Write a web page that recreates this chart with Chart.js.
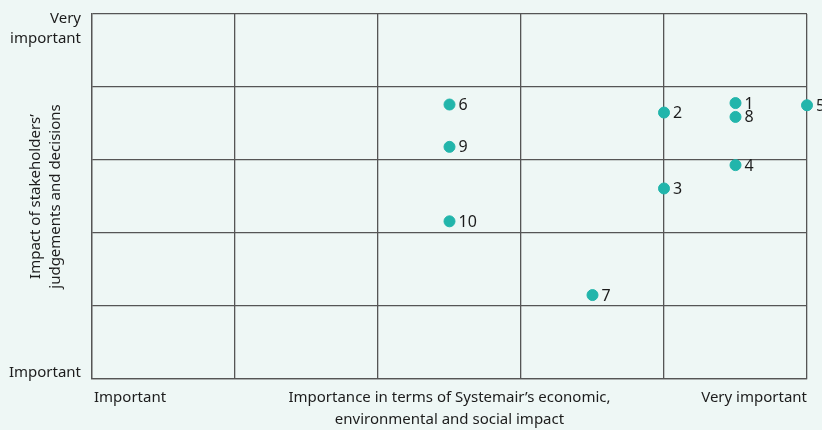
<!DOCTYPE html>
<html>
<head>
<meta charset="utf-8">
<script src="https://cdn.jsdelivr.net/npm/chart.js@4/dist/chart.umd.min.js"></script>
<style>
  html, body { margin: 0; padding: 0; background: #eef7f5; }
  #wrap { width: 822px; height: 430px; position: relative; }
</style>
</head>
<body>
<div id="wrap"><canvas id="matrix"></canvas></div>
<script>
  // Materiality matrix data
  var pointLabels = ['1', '2', '3', '4', '5', '6', '7', '8', '9', '10'];
  var economicImpact = [4.5, 4.0, 4.0, 4.5, 5.0, 2.5, 3.5, 4.5, 2.5, 2.5];
  var stakeholderImpact = [3.78, 3.65, 2.61, 2.93, 3.75, 3.76, 1.15, 3.59, 3.18, 2.16];

  var xLowLabel = 'Important';
  var xHighLabel = 'Very important';
  var yLowLabel = 'Important';
  var yHighLabel = ['Very', 'important'];
  var xTitle = ['Importance in terms of Systemair\u2019s economic,', 'environmental and social impact'];
  var yTitle = ['Impact of stakeholders\u2019', 'judgements and decisions'];

  var fontFamily = '"Noto Sans", sans-serif';
  var textColor = '#1c1c1c';
  var dotColor = '#22b5ab';

  var points = economicImpact.map(function (x, i) {
    return { x: x, y: stakeholderImpact[i] };
  });

  // draws the number next to each dot and the axis texts
  var labelPlugin = {
    id: 'matrixLabels',
    afterDatasetsDraw: function (chart) {
      var ctx = chart.ctx;
      var area = chart.chartArea;
      var meta = chart.getDatasetMeta(0);
      ctx.save();
      ctx.fillStyle = textColor;
      ctx.font = '16px ' + fontFamily;
      ctx.textAlign = 'left';
      ctx.textBaseline = 'middle';
      meta.data.forEach(function (el, i) {
        ctx.fillText(pointLabels[i], el.x + 9, el.y + 1);
      });

      ctx.font = '15px ' + fontFamily;
      // y axis end labels
      ctx.textAlign = 'right';
      ctx.textBaseline = 'middle';
      ctx.fillText(yHighLabel[0], area.left - 11, area.top + 5);
      ctx.fillText(yHighLabel[1], area.left - 11, area.top + 25);
      ctx.fillText(yLowLabel, area.left - 11, area.bottom - 6);

      // x axis end labels
      ctx.textAlign = 'left';
      ctx.fillText(xLowLabel, area.left + 2, area.bottom + 19);
      ctx.textAlign = 'right';
      ctx.fillText(xHighLabel, area.right, area.bottom + 19);

      // x title
      ctx.textAlign = 'center';
      var cx = (area.left + area.right) / 2;
      ctx.fillText(xTitle[0], cx, area.bottom + 19);
      ctx.fillText(xTitle[1], cx, area.bottom + 41);

      // y title (rotated)
      var cy = (area.top + area.bottom) / 2;
      ctx.translate(36, cy);
      ctx.rotate(-Math.PI / 2);
      ctx.textAlign = 'center';
      ctx.fillText(yTitle[0], 0, 0);
      ctx.fillText(yTitle[1], 0, 20);
      ctx.restore();
    }
  };

  var bgPlugin = {
    id: 'bg',
    beforeDraw: function (chart) {
      var ctx = chart.ctx;
      ctx.save();
      ctx.fillStyle = '#eef7f5';
      ctx.fillRect(0, 0, chart.width, chart.height);
      ctx.restore();
    }
  };

  var gridStyle = {
    color: '#555',
    lineWidth: 1.3,
    drawTicks: false
  };

  new Chart(document.getElementById('matrix'), {
    type: 'scatter',
    data: {
      datasets: [{
        data: points,
        backgroundColor: dotColor,
        borderColor: dotColor,
        pointRadius: 5.5,
        pointHoverRadius: 5.5,
        clip: false
      }]
    },
    options: {
      responsive: true,
      maintainAspectRatio: false,
      animation: false,
      layout: { padding: { left: 92, right: 15, top: 14, bottom: 51 } },
      plugins: {
        legend: { display: false },
        tooltip: { enabled: false }
      },
      scales: {
        x: {
          min: 0, max: 5,
          ticks: { display: false, stepSize: 1 },
          grid: gridStyle,
          border: { display: true, color: '#555', width: 1.3 }
        },
        y: {
          min: 0, max: 5,
          ticks: { display: false, stepSize: 1 },
          grid: gridStyle,
          border: { display: true, color: '#555', width: 1.3 }
        }
      }
    },
    plugins: [bgPlugin, labelPlugin]
  });
</script>
</body>
</html>
